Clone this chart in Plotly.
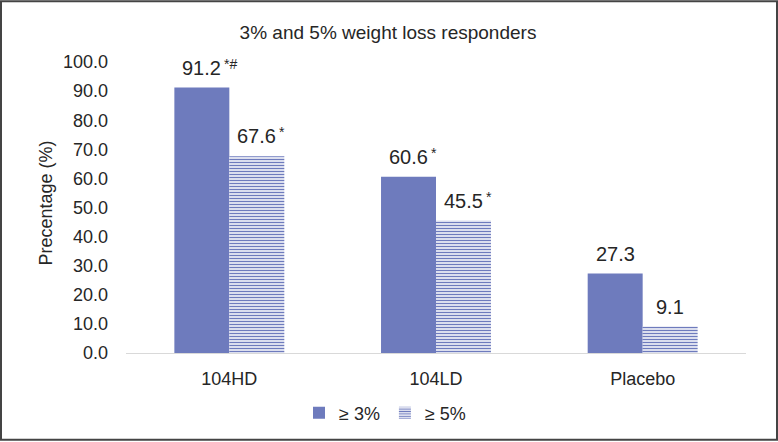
import plotly.graph_objects as go

categories = ["104HD", "104LD", "Placebo"]
resp3 = [91.2, 60.6, 27.3]
resp5 = [67.6, 45.5, 9.1]
marks3 = ["*#", "*", ""]
marks5 = ["*", "*", ""]
series_names = ["≥ 3%", "≥ 5%"]
y_ticks = [0, 10, 20, 30, 40, 50, 60, 70, 80, 90, 100]

blue = "#6E7BBD"
txt = "#262626"
font_family = "Liberation Sans, Arial, sans-serif"

fig = go.Figure()
fig.add_trace(go.Bar(x=categories, y=resp3, name=series_names[0],
                     marker=dict(color=blue, line=dict(width=0))))
fig.add_trace(go.Bar(x=categories, y=resp5, name=series_names[1],
                     marker=dict(color="white", line=dict(width=0),
                                 pattern=dict(shape="-", fgcolor=blue, bgcolor="white",
                                              size=3, solidity=0.5, fillmode="replace"))))

L, R, T, B = 126, 32, 62, 88
W, H = 778, 442
pw = W - L - R
ph = H - T - B
bw = 27.5

annotations = []
for vals, marks, dx in [(resp3, marks3, -bw), (resp5, marks5, bw)]:
    for c, v, m in zip(categories, vals, marks):
        annotations.append(dict(x=c, y=v, xref="x", yref="y", text=f"{v:.1f}",
                                showarrow=False, xshift=dx, yshift=20, yanchor="middle",
                                font=dict(size=20, color=txt, family=font_family)))
        if m:
            annotations.append(dict(x=c, y=v, xref="x", yref="y", text=m,
                                    showarrow=False, xshift=dx + 20, yshift=24,
                                    xanchor="left", yanchor="middle",
                                    font=dict(size=14, color=txt, family=font_family)))
annotations.append(dict(x=-(L - 46) / pw, y=(354 - 204) / ph, xref="paper", yref="paper",
                        xanchor="center", yanchor="middle",
                        text="Precentage (%)", textangle=-90, showarrow=False,
                        font=dict(size=18, color=txt, family=font_family)))

fig.update_layout(
    width=W, height=H,
    margin=dict(l=L, r=R, t=T, b=B),
    paper_bgcolor="white", plot_bgcolor="white",
    barmode="group", bargap=0.468, bargroupgap=0,
    font=dict(family=font_family, color=txt, size=18),
    title=dict(text="3% and 5% weight loss responders", x=388 / W, xanchor="center",
               y=1 - 32 / H, yanchor="middle", font=dict(size=19, color=txt)),
    xaxis=dict(showline=True, linecolor="#D9D9D9", linewidth=1, ticks="",
               tickfont=dict(size=18, color=txt), ticklabelstandoff=9),
    yaxis=dict(range=[0, 100], tickvals=y_ticks, ticktext=[f"{t:.1f}" for t in y_ticks],
               showgrid=False, zeroline=False, showline=False, ticks="",
               tickfont=dict(size=18, color=txt), ticklabelstandoff=17),
    legend=dict(orientation="h", x=(385 - L) / pw, xanchor="center", y=-(413 - (H - B)) / ph,
                yanchor="middle", font=dict(size=18, color=txt), itemwidth=30,
                traceorder="normal"),
    annotations=annotations,
    shapes=[dict(type="rect", xref="paper", yref="paper",
                 x0=(1 - L) / pw, x1=(W - 1 - L) / pw,
                 y0=((H - B) - (H - 1)) / ph, y1=((H - B) - 1) / ph,
                 line=dict(color="#444444", width=2), fillcolor="rgba(0,0,0,0)", layer="above")],
)

fig.write_html("out.html", config={"displayModeBar": False},
               post_script="document.body.style.margin='0';document.body.style.overflow='hidden';")
